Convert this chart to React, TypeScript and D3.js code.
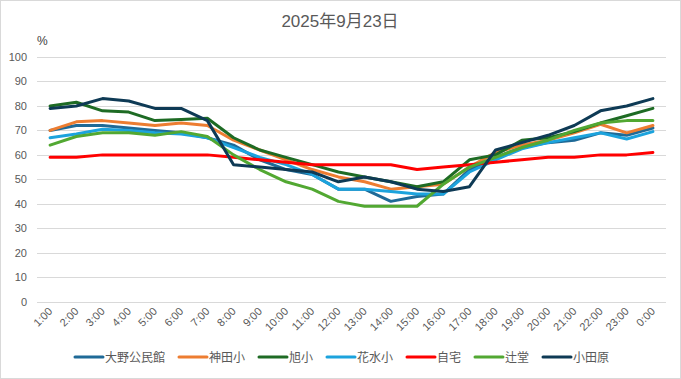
import React from "react";
import * as d3 from "d3";

const hours = ["1:00","2:00","3:00","4:00","5:00","6:00","7:00","8:00","9:00","10:00","11:00","12:00","13:00","14:00","15:00","16:00","17:00","18:00","19:00","20:00","21:00","22:00","23:00","0:00"];

const seriesNames = ["大野公民館","神田小","旭小","花水小","自宅","辻堂","小田原"];
const seriesColors = ["#1F6A97","#ED7D31","#1E6B24","#1CA3DD","#FF0000","#52A832","#0E3A55"];

const oono = [70,72,72,71,70,69,67,64,58,54,52,46,46,41,43,44,54,59,63,65,66,69,68,71];
const kanda = [70,73.5,74,73,72,73,72,66,62,58,54,51,49,46,47,48,55,61,64,66,69,72.5,69,72];
const asahi = [80,81.5,78,77.5,74,74.5,75,67,62,59,56,53,51,49,47,49,58,60,66,67,69.5,73,76,79];
const hanamizu = [67,68.5,70.5,70,69,68.5,67,63,59,56,52,46,46,45,44,44,53,58,62.5,65,67,69,66.5,69.5];
const jitaku = [59,59,60,60,60,60,60,59,58,57,56,56,56,56,54,55,56,57,58,59,59,60,60,61];
const tsujido = [64,67.5,69,69,68,69.5,67.5,60,54,49,46,41,39,39,39,48,55,59,63,66,70,73,74,74];
const odawara = [79,80,83,82,79,79,74,56,55,54,53,49,51,49,46,45,47,62,65,68,72,78,80,83];

const seriesValues = [oono, kanda, asahi, hanamizu, jitaku, tsujido, odawara];
const yTicks = [0,10,20,30,40,50,60,70,80,90,100];

const W = 681, H = 379;
const FONT = "'Liberation Sans', 'Noto Sans CJK JP', sans-serif";
const TXT = "#595959";

export default function App() {
  const x = d3.scalePoint<string>().domain(hours).range([37, 666]).padding(0.5);
  const y = d3.scaleLinear().domain([0, 100]).range([301.7, 57]);
  const line = d3.line<number>().x((_, i) => x(hours[i]) as number).y(v => y(v));

  // legend layout
  const lf = 12;
  const items: { lx: number; tx: number }[] = [];
  let cur = 0;
  seriesNames.forEach((n) => {
    items.push({ lx: cur, tx: cur + 30 });
    cur += 30 + n.length * lf + 14;
  });
  const totalW = cur - 14;
  const startX = 342 - totalW / 2;

  return (
    <svg width={W} height={H} style={{ position: "fixed", left: 0, top: 0, background: "#fff" }} fontFamily={FONT}>
      <rect x={0.5} y={0.5} width={W - 1} height={H - 1} fill="#fff" stroke="#d9d9d9" />
      <text x={340} y={27} textAnchor="middle" fontSize={17} fill={TXT}>2025年9月23日</text>
      <text x={37} y={45} fontSize={12} fill="#404040">%</text>
      {yTicks.map(t => (
        <g key={t}>
          <line x1={37} x2={666} y1={Math.round(y(t)) + 0.5} y2={Math.round(y(t)) + 0.5} stroke="#d9d9d9" strokeWidth={1} />
          <text x={27} y={y(t) + 4} textAnchor="end" fontSize={11} fill={TXT}>{t}</text>
        </g>
      ))}
      {hours.map(h => (
        <text key={h} transform={`translate(${(x(h) as number) + 3},${312}) rotate(-45)`} textAnchor="end" fontSize={11} fill={TXT}>{h}</text>
      ))}
      {seriesValues.map((vals, i) => (
        <path key={i} d={line(vals) || ""} fill="none" stroke={seriesColors[i]} strokeWidth={3} strokeLinejoin="round" strokeLinecap="round" />
      ))}
      {seriesNames.map((n, i) => (
        <g key={n} transform={`translate(${startX + items[i].lx},357)`}>
          <line x1={0} x2={28} y1={0} y2={0} stroke={seriesColors[i]} strokeWidth={3} strokeLinecap="round" />
          <text x={30} y={4.5} fontSize={lf} fill={TXT}>{n}</text>
        </g>
      ))}
    </svg>
  );
}
